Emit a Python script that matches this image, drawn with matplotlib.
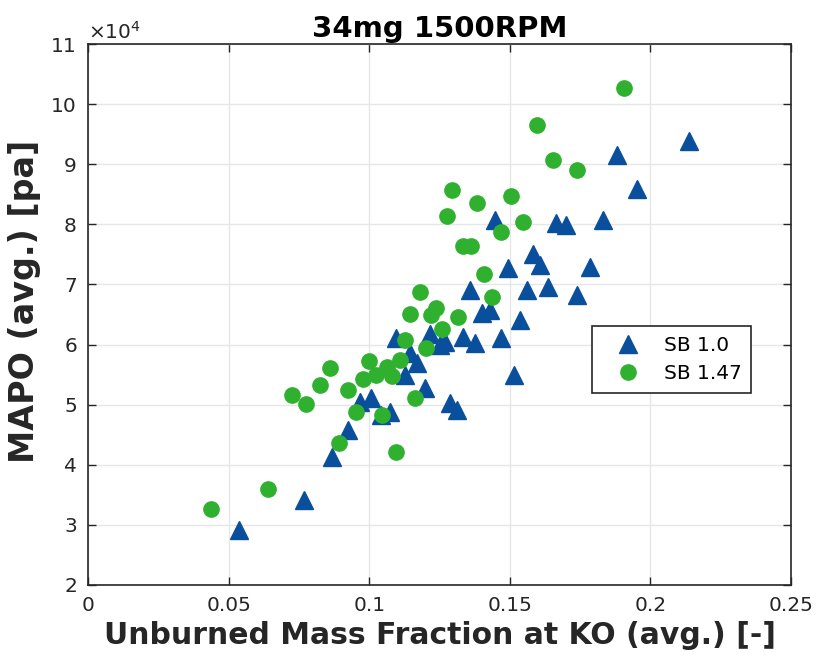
import matplotlib
matplotlib.use("Agg")
import matplotlib.pyplot as plt
from matplotlib.ticker import FuncFormatter

plt.rcParams['font.family'] = ['DejaVu Sans']

# SB 1.0 (triangles)
sb10_x = [0.0538, 0.0768, 0.0869, 0.0924, 0.0968, 0.1006, 0.1042, 0.1074, 0.1095, 0.1145,
          0.1169, 0.1127, 0.1198, 0.1216, 0.1252, 0.1270, 0.1335, 0.1376, 0.1468, 0.1287,
          0.1311, 0.1358, 0.1400, 0.1428, 0.1447, 0.1495, 0.1536, 0.1560, 0.1515, 0.1581,
          0.1607, 0.1637, 0.1666, 0.1700, 0.1739, 0.1785, 0.1830, 0.1882, 0.1951, 0.2138]
sb10_y = [29150, 34140, 41350, 45790, 50500, 51060, 48200, 48790, 61100, 58600,
          56890, 54940, 52730, 61760, 59930, 60430, 61260, 60220, 61100, 50230,
          49120, 69080, 65210, 65760, 80650, 72700, 64090, 69080, 54940, 74990,
          73240, 69630, 80180, 79900, 68250, 72860, 80650, 91550, 85890, 93880]

# SB 1.47 (circles)
sb147_x = [0.0436, 0.0639, 0.0724, 0.0775, 0.0825, 0.0862, 0.0894, 0.0926, 0.0953, 0.0977,
           0.1000, 0.1024, 0.1044, 0.1062, 0.1080, 0.1095, 0.1110, 0.1127, 0.1145, 0.1162,
           0.1181, 0.1202, 0.1220, 0.1239, 0.1258, 0.1317, 0.1276, 0.1296, 0.1335, 0.1363,
           0.1382, 0.1408, 0.1437, 0.1468, 0.1504, 0.1548, 0.1597, 0.1655, 0.1740, 0.1907]
sb147_y = [32600, 35970, 51560, 50030, 53190, 56110, 43540, 52450, 48840, 54240,
           57190, 54940, 48200, 56190, 54780, 42080, 57440, 60720, 65090, 51060,
           68790, 59350, 64880, 66040, 62650, 64590, 81450, 85720, 76320, 76320,
           83510, 71700, 67920, 78790, 84730, 80450, 96490, 90720, 89050, 102650]

x_ticks = [0, 0.05, 0.1, 0.15, 0.2, 0.25]
x_tick_labels = ['0', '0.05', '0.1', '0.15', '0.2', '0.25']
y_ticks = [20000, 30000, 40000, 50000, 60000, 70000, 80000, 90000, 100000, 110000]

blue = '#0a4f9c'
green = '#2fb12f'
dark = '#262626'

fig = plt.figure(figsize=(8.18, 6.72), dpi=100)
ax = fig.add_axes([0.1076, 0.1295, 0.8594, 0.805])

ax.plot(sb10_x, sb10_y, linestyle='none', marker='^', ms=12.5, color=blue,
        markeredgecolor=blue, label='SB 1.0', zorder=3)
ax.plot(sb147_x, sb147_y, linestyle='none', marker='o', ms=11, color=green,
        markeredgecolor=green, label='SB 1.47', zorder=3)

ax.set_xlim(0, 0.25)
ax.set_ylim(20000, 110000)
ax.set_xticks(x_ticks)
ax.set_xticklabels(x_tick_labels)
ax.set_yticks(y_ticks)
ax.yaxis.set_major_formatter(FuncFormatter(lambda v, p: f"{v/1e4:g}"))

ax.grid(True, color='#e6e6e6', linewidth=1.0)
ax.set_axisbelow(True)
ax.tick_params(direction='in', length=6, width=1.0, colors=dark, labelsize=14.5,
               top=True, right=True, pad=8)
for sp in ax.spines.values():
    sp.set_color(dark)
    sp.set_linewidth(1.2)

ax.set_title('34mg 1500RPM', fontsize=21, fontweight='bold', color='black', pad=5)
ax.set_xlabel('Unburned Mass Fraction at KO (avg.) [-]', fontsize=21.5, fontweight='bold',
              color=dark, labelpad=4)
ax.set_ylabel('MAPO (avg.) [pa]', fontsize=24, fontweight='bold', color=dark)
ax.yaxis.set_label_coords(-0.067, 0.525)

ax.text(0.0, 1.003, r'$\times$10$^4$', transform=ax.transAxes, fontsize=14.5, color=dark,
        ha='left', va='bottom')

leg = ax.legend(loc='upper left', bbox_to_anchor=(0.717, 0.479), borderaxespad=0,
                fontsize=14.5, frameon=True, fancybox=False, framealpha=1, edgecolor=dark,
                borderpad=0.5, handletextpad=0.45, labelspacing=0.45, handlelength=2.6)
leg.get_frame().set_linewidth(1.2)

fig.savefig('out.png', dpi=100)
